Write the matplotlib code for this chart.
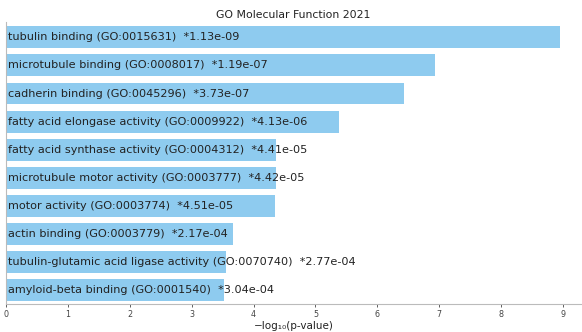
import numpy as np
import matplotlib
matplotlib.use('Agg')
import matplotlib.pyplot as plt

terms = [
    'tubulin binding (GO:0015631)',
    'microtubule binding (GO:0008017)',
    'cadherin binding (GO:0045296)',
    'fatty acid elongase activity (GO:0009922)',
    'fatty acid synthase activity (GO:0004312)',
    'microtubule motor activity (GO:0003777)',
    'motor activity (GO:0003774)',
    'actin binding (GO:0003779)',
    'tubulin-glutamic acid ligase activity (GO:0070740)',
    'amyloid-beta binding (GO:0001540)',
]
pvals = [1.13e-09, 1.19e-07, 3.73e-07, 4.13e-06, 4.41e-05,
         4.42e-05, 4.51e-05, 2.17e-04, 2.77e-04, 3.04e-04]
xticks = [0, 1, 2, 3, 4, 5, 6, 7, 8, 9]

score = -np.log10(pvals)
ypos = np.arange(len(terms))

fig = plt.figure(figsize=(5.82, 3.32), dpi=100)
ax = fig.add_axes([0.0103, 0.084, 0.988, 0.85])

ax.barh(ypos, score, height=0.78, color='#8ecbef')
for y, t, p in zip(ypos, terms, pvals):
    ax.text(0.04, y, t + '  *' + format(p, '.2e'), va='center', ha='left',
            fontsize=8.1, color='#222222')

ax.set_ylim(len(terms) - 0.5, -0.55)
ax.set_xlim(0, 9.29)
ax.set_yticks([])
ax.set_xticks(xticks)
ax.tick_params(axis='x', labelsize=5.8, length=2, width=0.6, pad=2,
               colors='#444444')
ax.set_xlabel('−log₁₀(p-value)', fontsize=7.5, labelpad=1.5, color='#222222')
ax.set_title('GO Molecular Function 2021', fontsize=7.8, pad=3, color='#222222')

for side in ['top', 'right']:
    ax.spines[side].set_visible(False)
for side in ['left', 'bottom']:
    ax.spines[side].set_color('#bbbbbb')
    ax.spines[side].set_linewidth(0.8)

fig.savefig('out.png', dpi=100)
